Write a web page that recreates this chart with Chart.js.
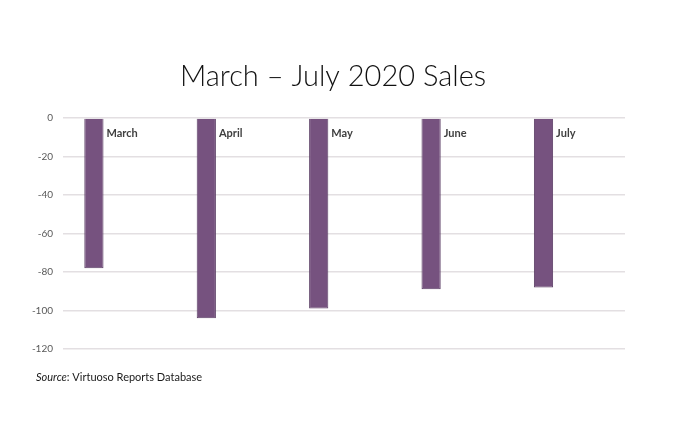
<!DOCTYPE html>
<html>
<head>
<meta charset="utf-8">
<script src="https://cdn.jsdelivr.net/npm/chart.js@4"></script>
<style>
  html, body { margin: 0; padding: 0; background: #ffffff; }
  #wrap { width: 673px; height: 427px; }
</style>
</head>
<body>
<div id="wrap"><canvas id="myChart"></canvas></div>
<script>
var months = ["March", "April", "May", "June", "July"];
var sales_change = [-78, -104, -99, -89, -88];
var y_ticks = [0, -20, -40, -60, -80, -100, -120];
var chart_title = "March \u2013 July 2020 Sales";
var source_note = "Virtuoso Reports Database";

// draws title, source line and the month labels beside each bar
var extraText = {
	id: 'extraText',
	afterDraw: function(chart) {
		var ctx = chart.ctx;
		ctx.save();
		ctx.fillStyle = "#111111";
		ctx.font = "300 29px Lato";
		ctx.textAlign = "center";
		ctx.textBaseline = "alphabetic";
		ctx.fillText(chart_title, 333, 86);

		var meta = chart.getDatasetMeta(0);
		var y0 = chart.scales.y.getPixelForValue(0);
		ctx.font = "bold 11px Lato";
		ctx.fillStyle = "#404040";
		ctx.textAlign = "left";
		ctx.textBaseline = "middle";
		meta.data.forEach(function(bar, i) {
			ctx.fillText(months[i], bar.x + bar.width / 2 + 3, y0 + 15);
		});

		ctx.textBaseline = "alphabetic";
		ctx.fillStyle = "#1a1a1a";
		ctx.font = "italic 11px Lato";
		ctx.fillText("Source", 36, 381);
		var w = ctx.measureText("Source").width;
		ctx.font = "11px Lato";
		ctx.fillText(": " + source_note, 36 + w, 381);
		ctx.restore();
	}
};

var ctx = document.getElementById("myChart");
var myChart = new Chart(ctx, {
	type: 'bar',
	data: {
		labels: months,
		datasets: [{
			data: sales_change,
			backgroundColor: "#76527f",
			borderColor: "#5c3f66",
			borderWidth: 1,
			categoryPercentage: 0.9,
			barPercentage: 0.38
		}, {
			data: months.map(function() { return null; }),
			categoryPercentage: 0.9,
			barPercentage: 0.38
		}]
	},
	options: {
		responsive: true,
		maintainAspectRatio: false,
		animation: false,
		layout: { padding: { left: 0, right: 48, top: 118, bottom: 78 } },
		plugins: {
			legend: { display: false },
			title: { display: false },
			tooltip: { enabled: false }
		},
		scales: {
			x: { display: false },
			y: {
				min: -120,
				max: 0,
				afterFit: function(scale) { scale.width = 63; },
				afterBuildTicks: function(scale) {
					scale.ticks = y_ticks.map(function(v) { return { value: v }; });
				},
				border: { display: false },
				grid: { color: "#e3dfe2", lineWidth: 1.5, drawTicks: false },
				ticks: {
					color: "#595959",
					font: { family: "Lato", size: 10 },
					padding: 10
				}
			}
		}
	},
	plugins: [extraText]
});
</script>
</body>
</html>
